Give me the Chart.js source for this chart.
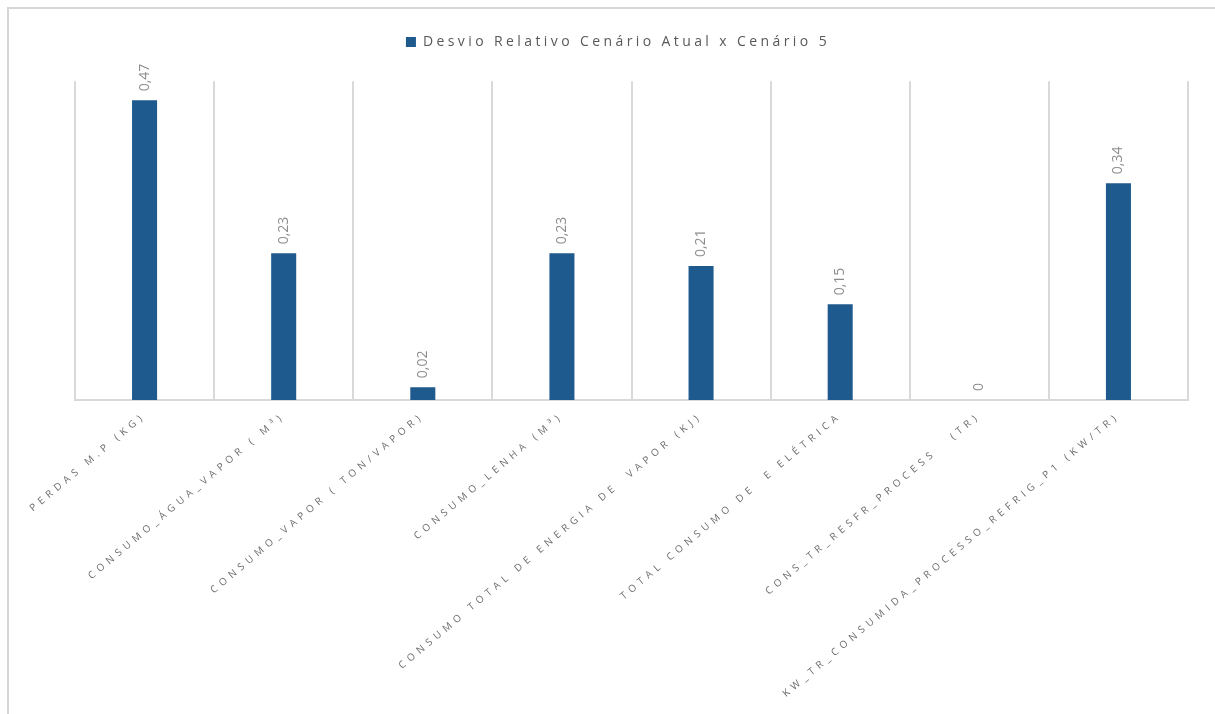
<!DOCTYPE html>
<html lang="pt-BR">
<head>
  <meta charset="UTF-8">
  <title>Desvio Relativo</title>
  <script src="https://cdn.jsdelivr.net/npm/chart.js"></script>
  <style>
    body { margin: 0; background: #fff; overflow: hidden; }
    canvas { display: block; }
  </style>
</head>
<body>
  <canvas id="desvioChart" width="1215" height="714"></canvas>
  <script>
    const categorias = [
      'PERDAS M.P (KG)',
      'CONSUMO_ÁGUA_VAPOR ( M³)',
      'CONSUMO_VAPOR ( TON/VAPOR)',
      'CONSUMO_LENHA (M³)',
      'CONSUMO TOTAL DE ENERGIA DE  VAPOR (KJ)',
      'TOTAL CONSUMO DE  E ELÉTRICA',
      'CONS_TR_RESFR_PROCESS   (TR)',
      'KW_TR_CONSUMIDA_PROCESSO_REFRIG_P1 (KW/TR)'
    ];
    const desvio = [0.47, 0.23, 0.02, 0.23, 0.21, 0.15, 0, 0.34];
    const serieNome = 'Desvio Relativo Cenário Atual x Cenário 5';

    const AZUL = '#1f5a8f';
    const CINZA_GRADE = '#d9d9d9';
    const ESPACO_LEGENDA = '3.4px';
    const ESPACO_EIXO = '4.6px';

    // moldura, espacamento de letras e rotulos de valor
    const extras = {
      id: 'extras',
      beforeLayout(chart) {
        chart.ctx.letterSpacing = ESPACO_LEGENDA;
      },
      afterLayout(chart) {
        chart.ctx.letterSpacing = '0px';
      },
      beforeDraw(chart) {
        const ctx = chart.ctx;
        ctx.save();
        ctx.strokeStyle = '#d6d6d6';
        ctx.lineWidth = 2;
        ctx.beginPath();
        ctx.moveTo(8, chart.height);
        ctx.lineTo(8, 8);
        ctx.lineTo(chart.width, 8);
        ctx.stroke();
        ctx.restore();
        ctx.letterSpacing = ESPACO_LEGENDA;
      },
      afterDatasetsDraw(chart) {
        const ctx = chart.ctx;
        const meta = chart.getDatasetMeta(0);
        ctx.save();
        ctx.letterSpacing = '0px';
        ctx.font = '14px "Open Sans"';
        ctx.fillStyle = '#8c8c8c';
        ctx.textAlign = 'left';
        ctx.textBaseline = 'middle';
        meta.data.forEach((bar, i) => {
          const txt = String(desvio[i]).replace('.', ',');
          ctx.save();
          ctx.translate(bar.x, bar.y - 9);
          ctx.rotate(-Math.PI / 2);
          ctx.fillText(txt, 0, 0);
          ctx.restore();
        });
        ctx.restore();
        // os rotulos do eixo x saem depois das barras (ticks.z = 1)
        ctx.letterSpacing = ESPACO_EIXO;
      },
      afterDraw(chart) {
        chart.ctx.letterSpacing = '0px';
      }
    };

    new Chart(document.getElementById('desvioChart'), {
      type: 'bar',
      data: {
        labels: categorias,
        datasets: [{
          label: serieNome,
          data: desvio,
          backgroundColor: AZUL,
          categoryPercentage: 1,
          barPercentage: 0.18
        }]
      },
      options: {
        responsive: false,
        animation: false,
        layout: { padding: { left: 48, right: 27, top: 25 } },
        plugins: {
          legend: {
            position: 'top',
            labels: {
              boxWidth: 10,
              boxHeight: 10,
              color: '#595959',
              font: { family: '"Open Sans"', size: 14 },
              padding: 10
            }
          },
          // espaco vazio entre a legenda e a area do grafico
          title: {
            display: true,
            text: '',
            weight: 500,
            font: { size: 1 },
            padding: { top: 21, bottom: 0 }
          },
          tooltip: { enabled: false }
        },
        scales: {
          x: {
            grid: { color: CINZA_GRADE, lineWidth: 2, drawTicks: false },
            border: { color: CINZA_GRADE, width: 2 },
            ticks: {
              z: 1,
              autoSkip: false,
              minRotation: 40,
              maxRotation: 40,
              padding: 10,
              color: '#6e6e6e',
              font: { family: '"Open Sans"', size: 10 }
            },
            beforeCalculateLabelRotation: s => { s.ctx.letterSpacing = ESPACO_EIXO; },
            afterFit: s => { s.ctx.letterSpacing = ESPACO_LEGENDA; s.height = 314; }
          },
          y: {
            position: 'left',
            min: 0,
            max: 0.5,
            ticks: { display: false },
            grid: { display: false },
            border: { display: false },
            afterFit: s => { s.width = 27; }
          }
        }
      },
      plugins: [extras]
    });
  </script>
</body>
</html>
